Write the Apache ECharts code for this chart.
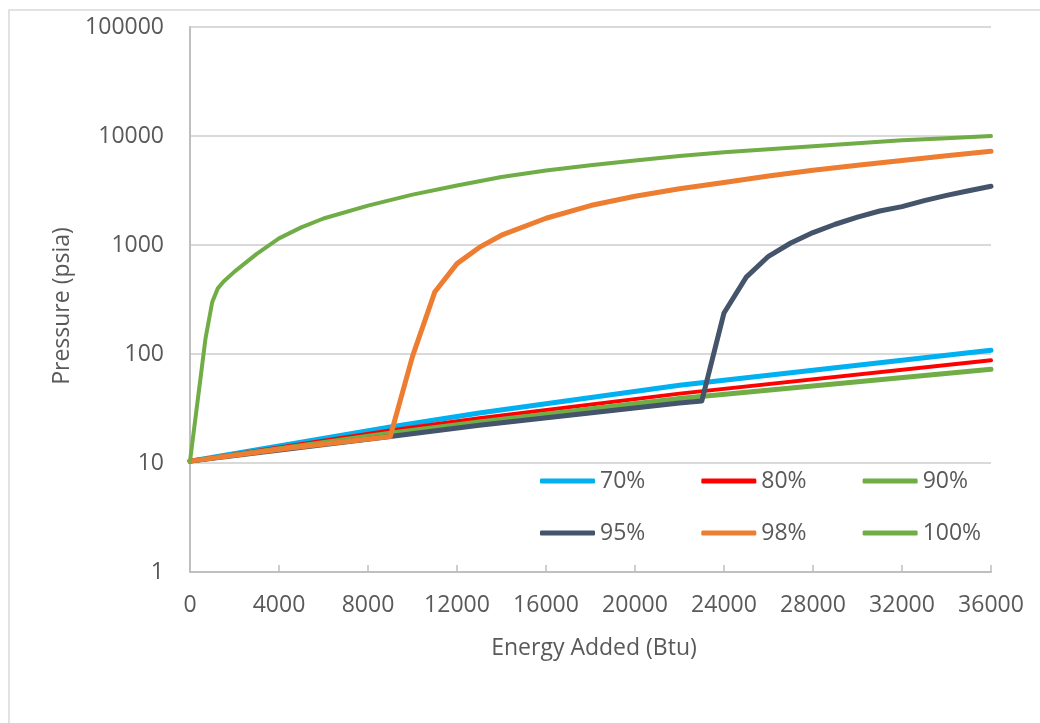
<!DOCTYPE html>
<html>
<head>
<meta charset="utf-8">
<script src="https://cdn.jsdelivr.net/npm/echarts@6/dist/echarts.min.js"></script>
<style>
  html, body { margin: 0; padding: 0; background: #ffffff; }
  #chart { width: 1040px; height: 723px; }
</style>
</head>
<body>
<div id="chart"></div>
<script>
// ---- data ----
const seriesNames = ['70%', '80%', '90%', '95%', '98%', '100%'];

const energy70 = [0, 9000, 13000, 22000, 36000];
const pressure70 = [10.4, 21.4, 28.8, 51.7, 108];

const energy80 = [0, 9000, 13000, 22000, 36000];
const pressure80 = [10.4, 19.9, 25.7, 43.3, 87.5];

const energy90 = [0, 9000, 13000, 22000, 36000];
const pressure90 = [10.4, 18.8, 23.8, 39, 72.5];

const energy95 = [0, 9000, 13000, 22000, 23000, 24000, 25000, 26000, 27000, 28000, 29000, 30000, 31000, 32000, 33000, 34000, 35000, 36000];
const pressure95 = [10.4, 17.5, 22.2, 35.5, 37, 238, 508, 788, 1043, 1300, 1550, 1800, 2050, 2250, 2550, 2850, 3150, 3460];

const energy98 = [0, 4500, 9000, 10000, 11000, 12000, 13000, 14000, 16000, 18000, 20000, 22000, 24000, 26000, 28000, 30000, 32000, 34000, 36000];
const pressure98 = [10.4, 13.7, 17.5, 95, 370, 675, 950, 1230, 1760, 2300, 2800, 3280, 3750, 4300, 4840, 5400, 5970, 6600, 7230];

const energy100 = [0, 700, 1000, 1250, 1500, 2000, 3000, 4000, 5000, 6000, 8000, 10000, 12000, 14000, 16000, 18000, 20000, 22000, 24000, 26000, 28000, 30000, 32000, 34000, 36000];
const pressure100 = [10.4, 140, 300, 400, 460, 570, 830, 1150, 1450, 1750, 2300, 2900, 3520, 4200, 4830, 5400, 5970, 6550, 7080, 7550, 8040, 8600, 9120, 9550, 10000];

const xTicks = [0, 4000, 8000, 12000, 16000, 20000, 24000, 28000, 32000, 36000];
const yTicks = [1, 10, 100, 1000, 10000, 100000];

const seriesColors = ['#00B0F0', '#FF0000', '#70AD47', '#44546A', '#ED7D31', '#70AD47'];
const seriesWidths = [5, 4, 5, 5, 5, 4];

// ---- build ----
const energies = [energy70, energy80, energy90, energy95, energy98, energy100];
const pressures = [pressure70, pressure80, pressure90, pressure95, pressure98, pressure100];

function pairs(xs, ys) { return xs.map((x, i) => [x, ys[i]]); }

const FONT = '"Open Sans", "Liberation Sans", sans-serif';
const TEXT = '#595959';

const series = seriesNames.map((name, i) => ({
  name: name,
  type: 'line',
  data: pairs(energies[i], pressures[i]),
  showSymbol: false,
  symbol: 'none',
  smooth: false,
  lineStyle: { color: seriesColors[i], width: seriesWidths[i], cap: 'round', join: 'round' },
  itemStyle: { color: seriesColors[i] },
  emphasis: { disabled: true },
  z: 2 + i
}));

const legendCommon = {
  orient: 'horizontal',
  left: 535,
  icon: 'roundRect',
  itemWidth: 55,
  itemHeight: 5,
  itemGap: 56,
  textStyle: { fontFamily: FONT, fontSize: 23, color: TEXT, lineHeight: 24 },
  selectedMode: false
};

const option = {
  animation: false,
  backgroundColor: '#ffffff',
  grid: { left: 190, right: 49, top: 27, bottom: 151, containLabel: false },
  legend: [
    Object.assign({}, legendCommon, { top: 464, data: seriesNames.slice(0, 3) }),
    Object.assign({}, legendCommon, { top: 516, data: seriesNames.slice(3, 6) })
  ],
  xAxis: {
    type: 'value',
    min: xTicks[0],
    max: xTicks[xTicks.length - 1],
    interval: xTicks[1] - xTicks[0],
    axisLine: { show: true, lineStyle: { color: '#BFBFBF', width: 2 } },
    axisTick: { show: true, inside: true, length: 7, lineStyle: { color: '#BFBFBF', width: 1.5 } },
    splitLine: { show: false },
    axisLabel: {
      margin: 22,
      fontFamily: FONT, fontSize: 23, color: TEXT,
      formatter: v => String(v)
    }
  },
  yAxis: {
    type: 'log',
    logBase: 10,
    min: yTicks[0],
    max: yTicks[yTicks.length - 1],
    axisLine: { show: true, lineStyle: { color: '#BFBFBF', width: 2 } },
    axisTick: { show: false },
    splitLine: { show: true, lineStyle: { color: '#D9D9D9', width: 2 } },
    axisLabel: {
      margin: 26,
      fontFamily: FONT, fontSize: 23, color: TEXT,
      formatter: v => String(Math.round(v))
    }
  },
  graphic: [
    {
      type: 'rect',
      shape: { x: 9, y: 10, width: 1200, height: 900 },
      style: { fill: 'none', stroke: '#D9D9D9', lineWidth: 1.5 },
      silent: true, z: -1
    },
    {
      type: 'text',
      x: 62, y: 306, rotation: Math.PI / 2,
      style: { text: 'Pressure (psia)', fill: TEXT, font: '23px ' + FONT, textAlign: 'center', textVerticalAlign: 'middle' },
      silent: true
    },
    {
      type: 'text',
      x: 594, y: 648,
      style: { text: 'Energy Added (Btu)', fill: TEXT, font: '23px ' + FONT, textAlign: 'center', textVerticalAlign: 'middle' },
      silent: true
    }
  ],
  series: series
};

const chart = echarts.init(document.getElementById('chart'), null, { renderer: 'canvas' });
chart.setOption(option);
</script>
</body>
</html>
